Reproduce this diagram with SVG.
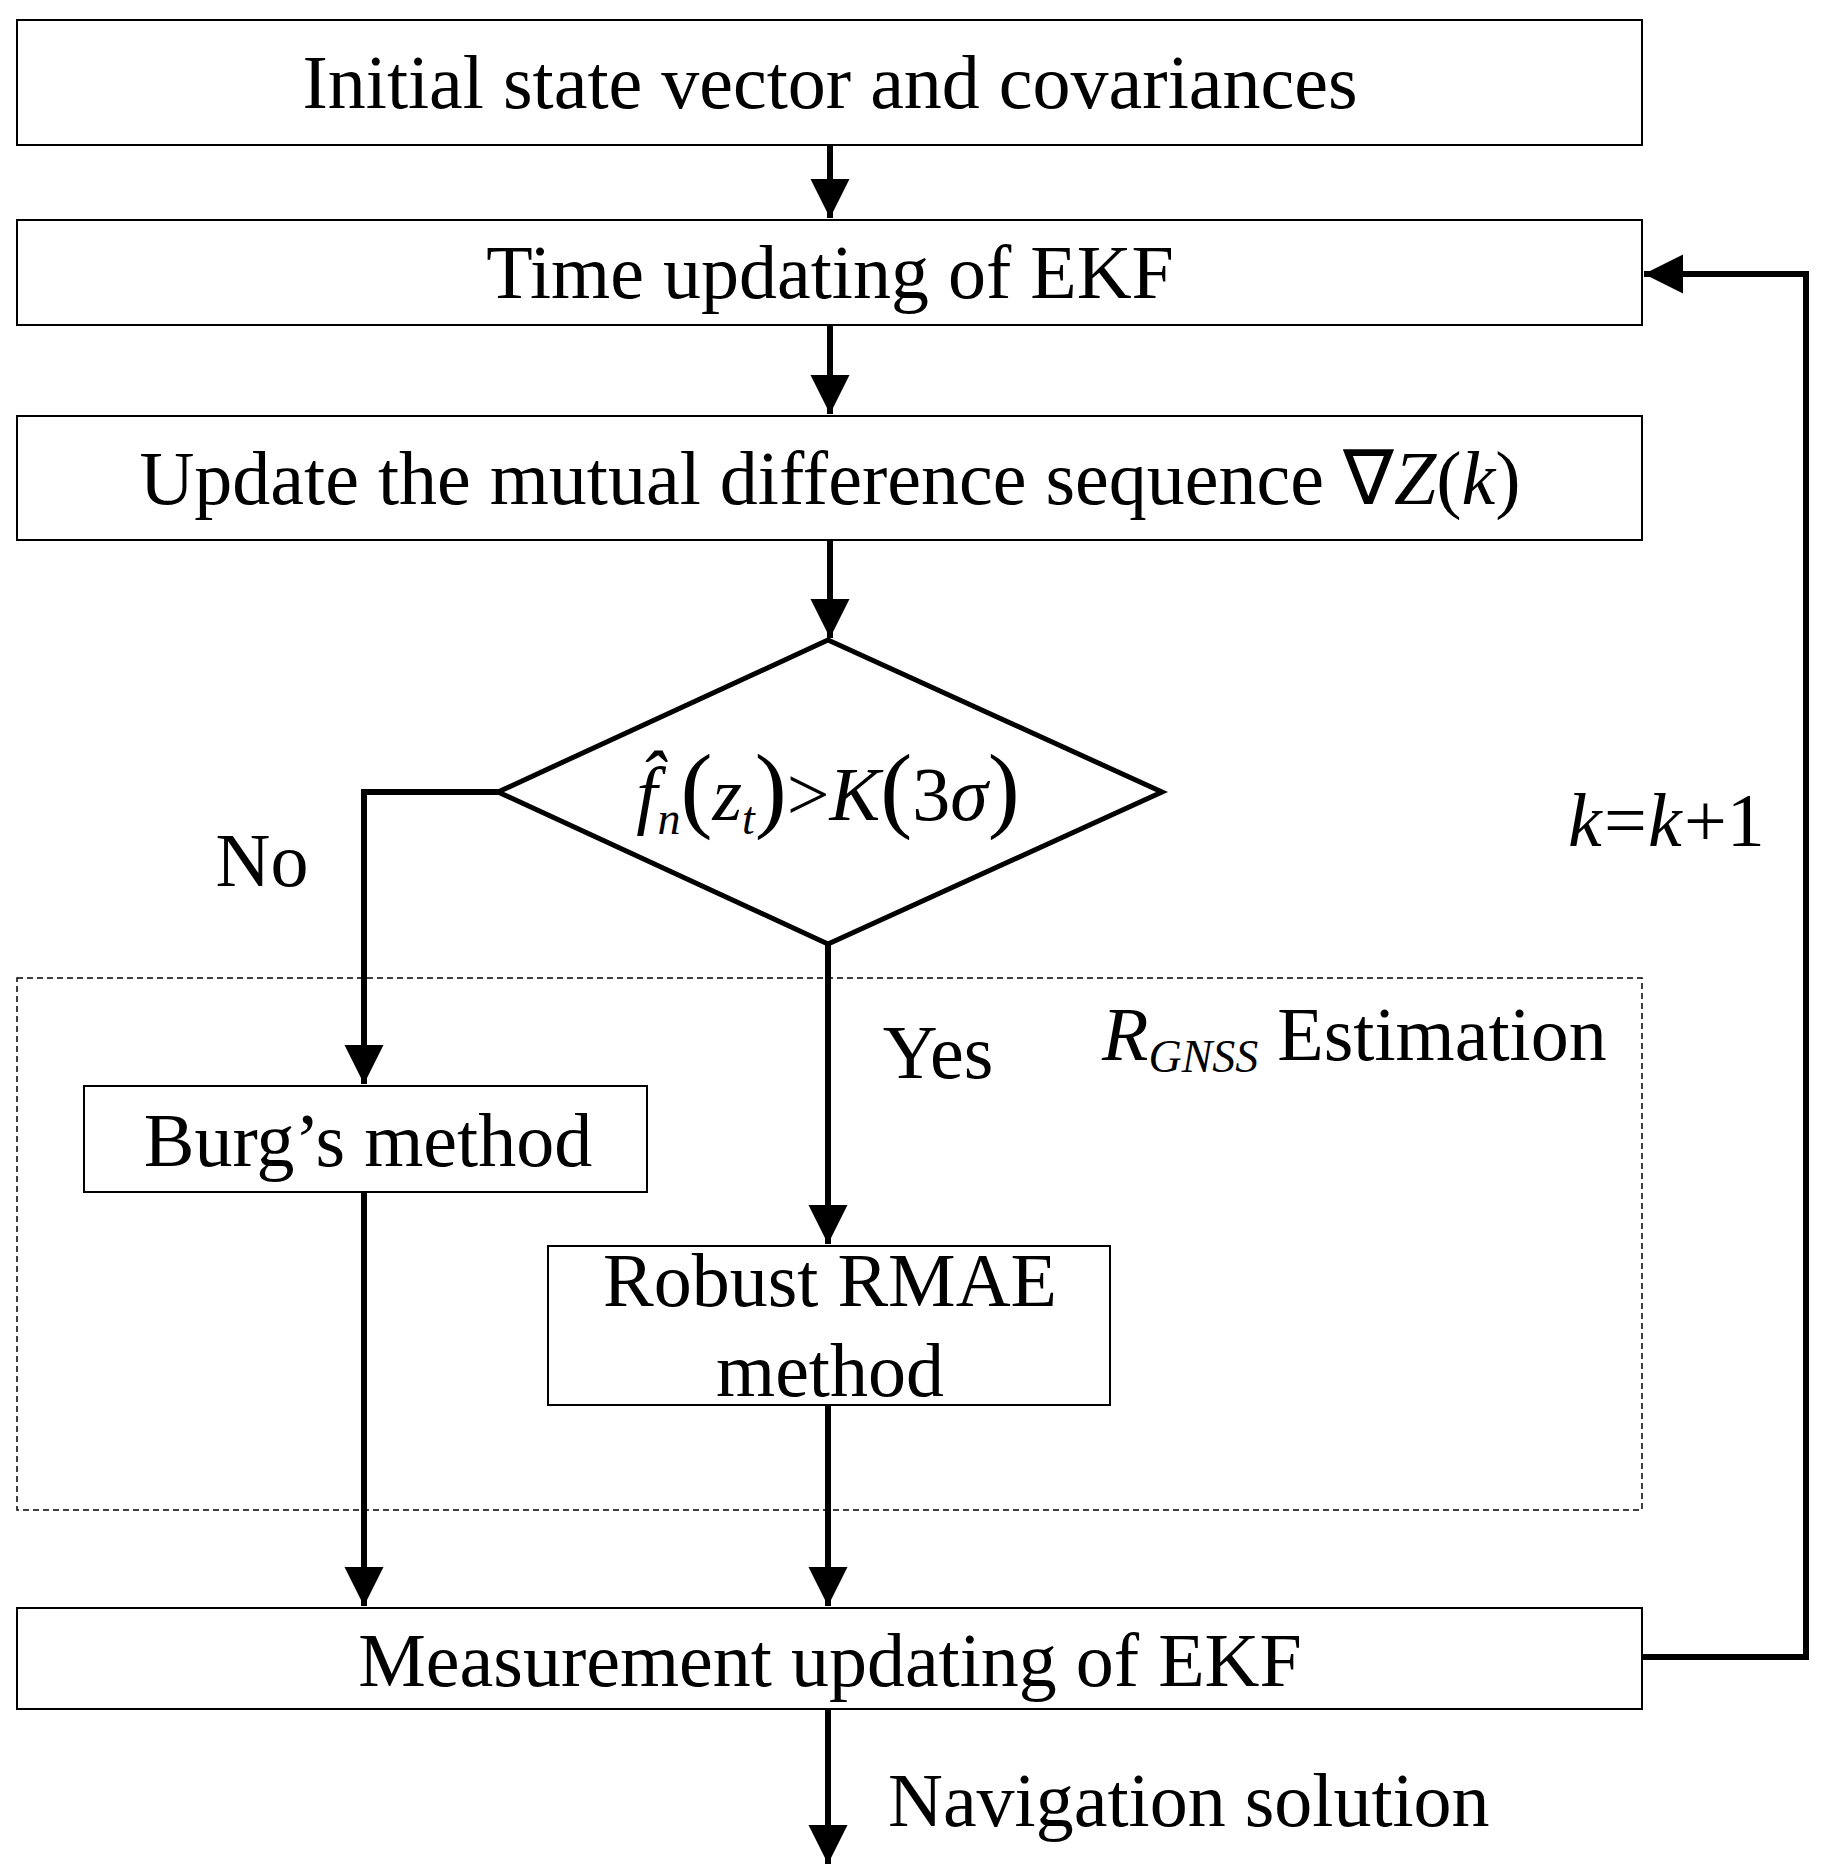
<svg xmlns="http://www.w3.org/2000/svg" width="1824" height="1866" viewBox="0 0 1824 1866">
<style>
text{font-family:"Liberation Serif","Times New Roman",serif;font-size:76px;fill:#000}
.c{text-anchor:middle}
.b{fill:#fff;stroke:#000;stroke-width:2}
.l{fill:none;stroke:#000;stroke-width:6}
</style>
<defs><marker id="a" viewBox="0 0 10 10" refX="10" refY="5" markerWidth="6.5" markerHeight="7.5" markerUnits="strokeWidth" orient="auto"><path d="M0,0L10,5L0,10z" fill="#000"/></marker></defs>
<rect width="1824" height="1866" fill="#fff"/>
<rect x="17" y="978" width="1625" height="532" fill="none" stroke="#000" stroke-width="1.5" stroke-dasharray="6,4"/>
<g id="connectors">
<path class="l" d="M830,145V218" marker-end="url(#a)"/>
<path class="l" d="M830,325V414" marker-end="url(#a)"/>
<path class="l" d="M830,540V638" marker-end="url(#a)"/>
<path class="l" d="M498,792H364V1084" marker-end="url(#a)"/>
<path class="l" d="M828,944V1244" marker-end="url(#a)"/>
<path class="l" d="M364,1192V1606" marker-end="url(#a)"/>
<path class="l" d="M828,1405V1606" marker-end="url(#a)"/>
<path class="l" d="M828,1709V1864" marker-end="url(#a)"/>
<path class="l" d="M1642,1657H1806V274H1644" marker-end="url(#a)"/>
</g>
<g id="n1"><rect class="b" x="17" y="20" width="1625" height="125"/><text class="c" x="830" y="108">Initial state vector and covariances</text></g>
<g id="n2"><rect class="b" x="17" y="220" width="1625" height="105"/><text class="c" x="830" y="298">Time updating of EKF</text></g>
<g id="n3"><rect class="b" x="17" y="416" width="1625" height="124"/><text class="c" x="830" y="504">Update the mutual difference sequence ∇<tspan font-style="italic">Z</tspan>(<tspan font-style="italic">k</tspan>)</text></g>
<g id="n4"><path d="M828,640L1162,792L828,944L498,792Z" fill="#fff" stroke="#000" stroke-width="5"/>
<text class="c" x="828" y="820" font-size="80"><tspan font-style="italic">f̂</tspan><tspan font-style="italic" font-size="46" dy="14">n</tspan><tspan dy="-14" font-size="96">(</tspan><tspan font-style="italic">z</tspan><tspan font-style="italic" font-size="46" dy="14">t</tspan><tspan dy="-14" font-size="96">)</tspan>&gt;<tspan font-style="italic">K</tspan><tspan font-size="96">(</tspan>3<tspan font-style="italic">σ</tspan><tspan font-size="96">)</tspan></text></g>
<g id="n5"><rect class="b" x="84" y="1086" width="563" height="106"/><text class="c" x="368" y="1166">Burg’s method</text></g>
<g id="n6"><rect class="b" x="548" y="1246" width="562" height="159"/><text class="c" x="830" y="1306">Robust RMAE</text><text class="c" x="830" y="1396">method</text></g>
<g id="n7"><rect class="b" x="17" y="1608" width="1625" height="101"/><text class="c" x="830" y="1686">Measurement updating of EKF</text></g>
<text class="c" x="262" y="886">No</text>
<text class="c" x="938" y="1078">Yes</text>
<text x="1568" y="846" font-style="italic">k</text><text x="1604" y="846">=</text><text x="1648" y="846" font-style="italic">k</text><text x="1684" y="846">+1</text>
<text x="1102" y="1060"><tspan font-style="italic">R</tspan><tspan font-style="italic" font-size="46" dy="12">GNSS</tspan><tspan dy="-12"> Estimation</tspan></text>
<text x="888" y="1826">Navigation solution</text>
</svg>
